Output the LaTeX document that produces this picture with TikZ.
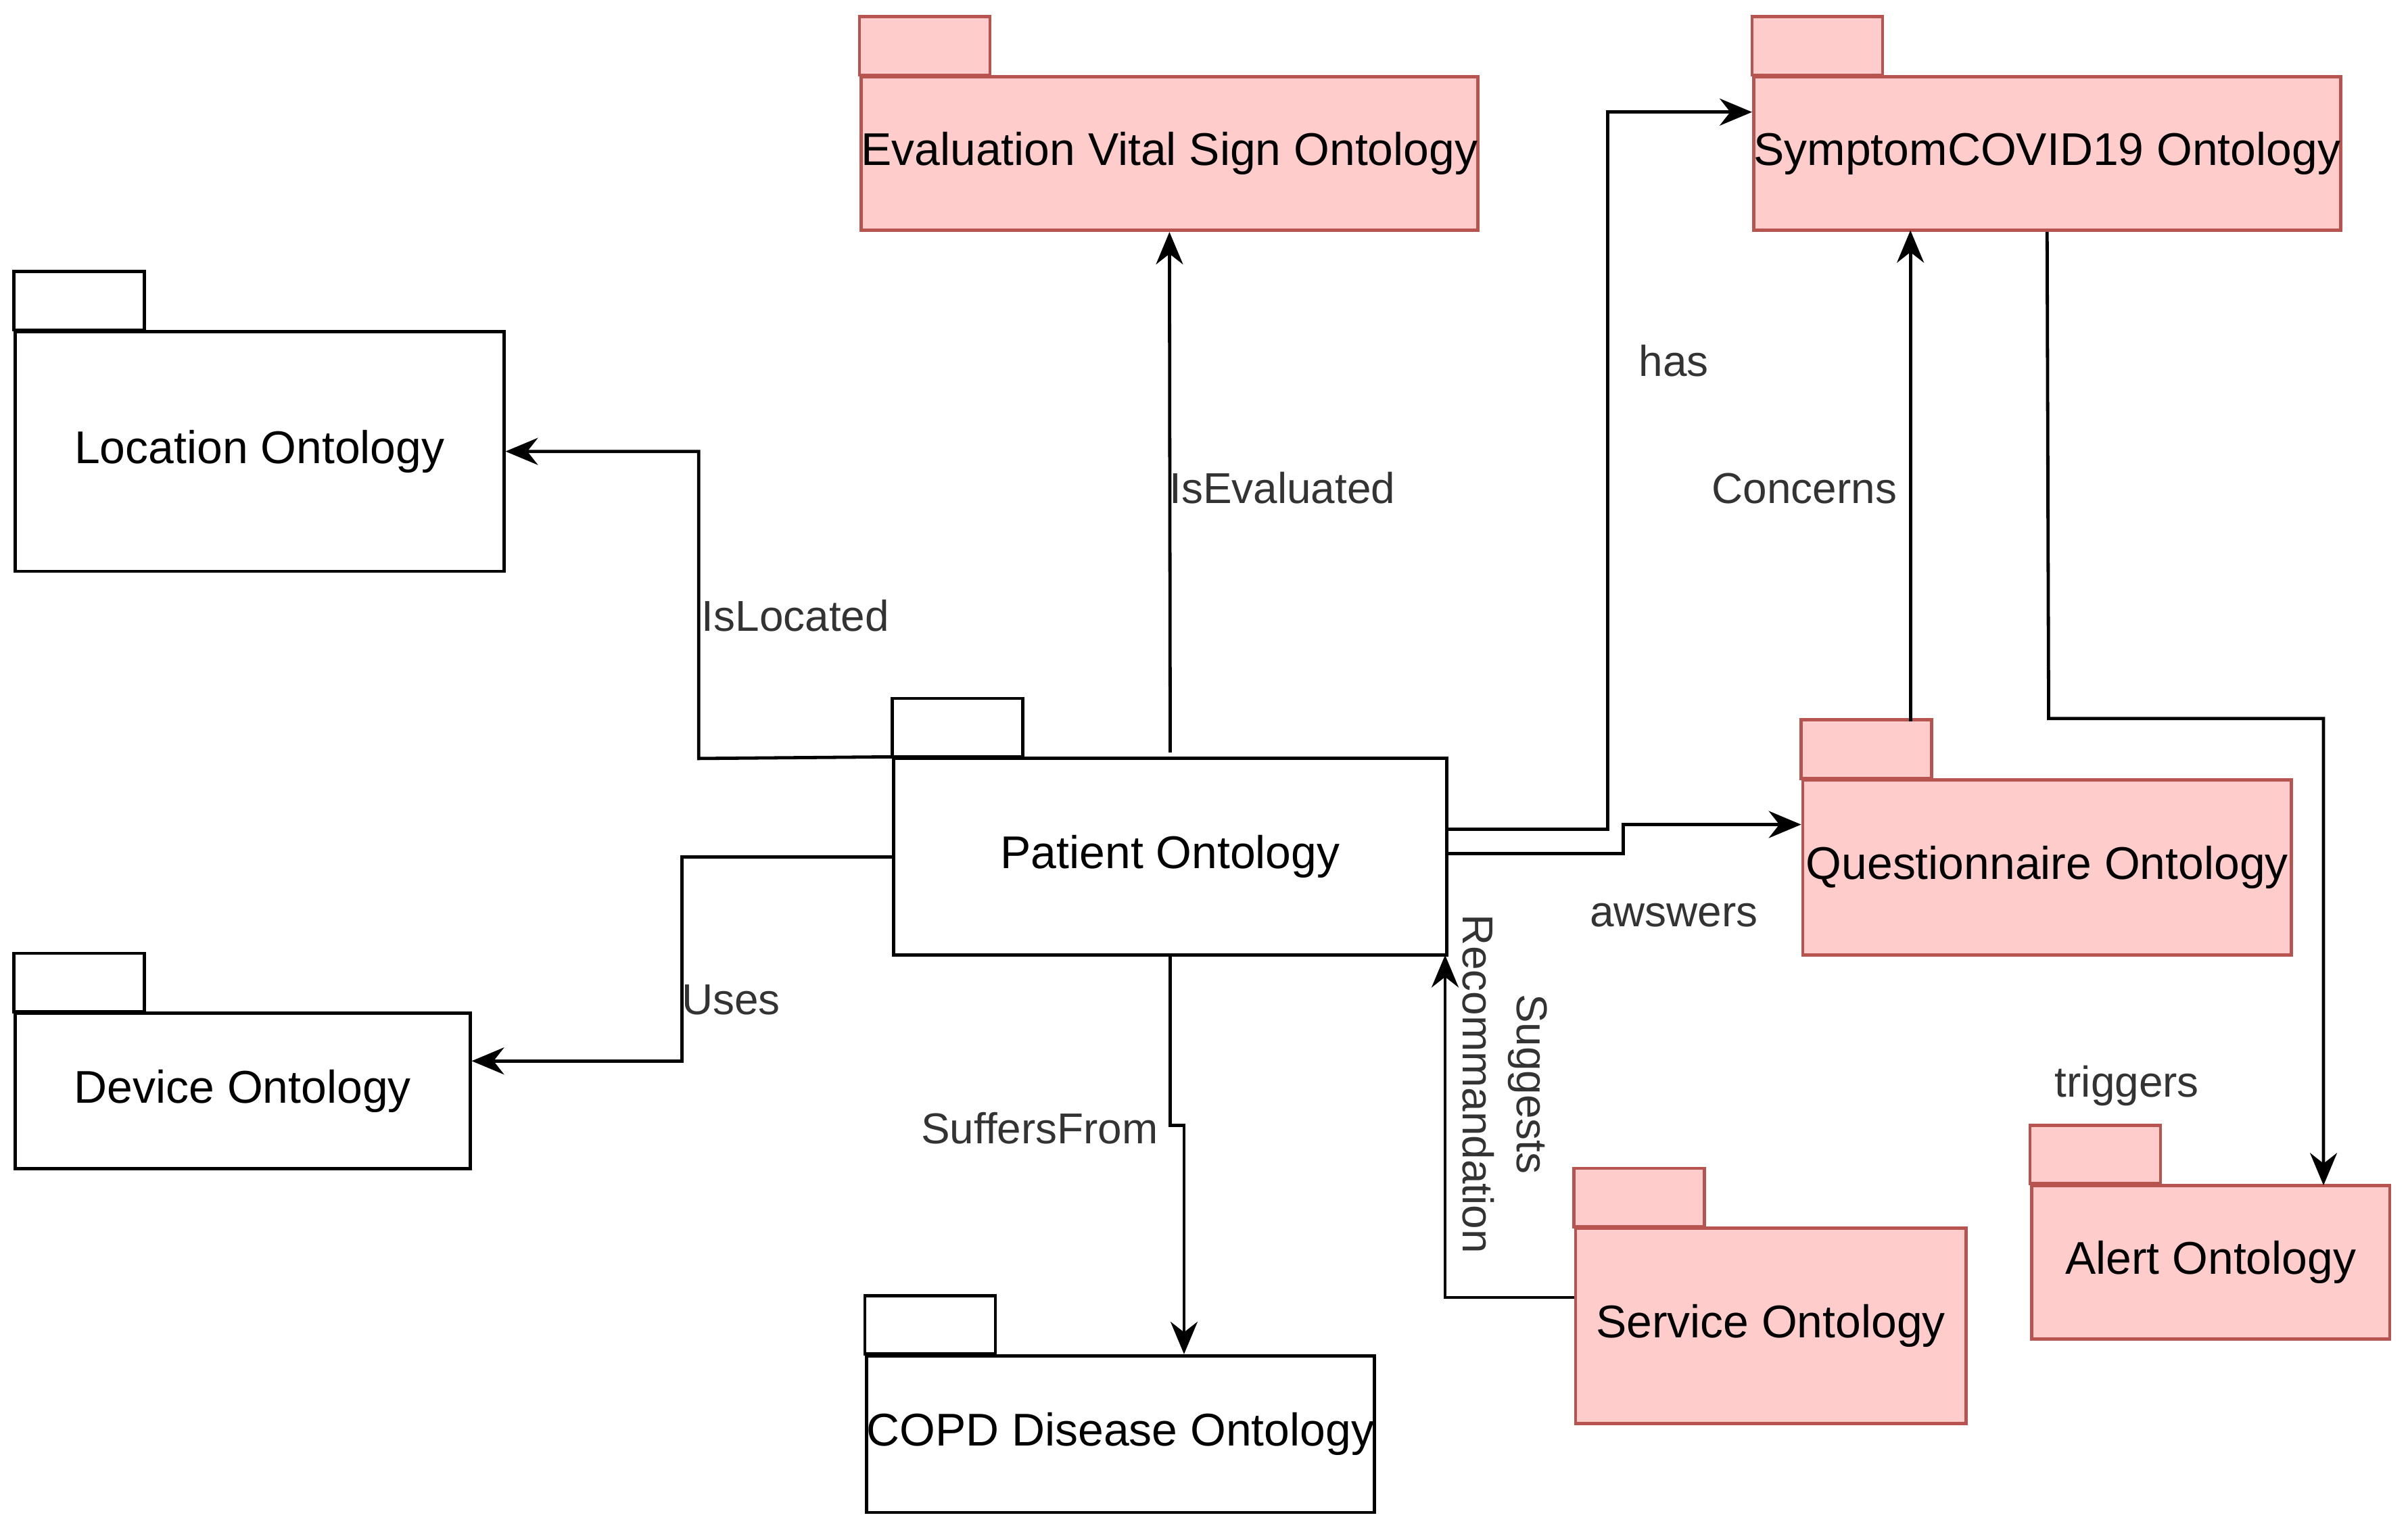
\documentclass[tikz,border=0pt]{standalone}
\usepackage{fontspec}
\setmainfont{Liberation Sans}
\usepackage{tikz}
\usepackage{xcolor}
\usetikzlibrary{positioning,arrows.meta}
\definecolor{pkgpink}{HTML}{FFCCCC}
\definecolor{pkgred}{HTML}{B85450}

\begin{document}
\begin{tikzpicture}[x=0.01cm, y=-0.01cm, semithick, font=\fontsize{8.5}{10}\selectfont,
    pkg/.style={draw=black, fill=white, inner sep=0pt},
    redpkg/.style={draw=pkgred, fill=pkgpink, inner sep=0pt},
    lbl/.style={font=\fontsize{8}{10}\selectfont, text=black!80},
    link/.style={-{Stealth[length=6pt,width=5pt]}}]
    \useasboundingbox (0,0) rectangle (1568,995);

    % package bodies
    \node[redpkg, minimum width=3.81cm, minimum height=1cm] (eval) at (761.5,100) {Evaluation Vital Sign Ontology};
    \node[redpkg, minimum width=3.6cm, minimum height=1cm] (symp) at (1333,100) {SymptomCOVID19 Ontology};
    \node[pkg, minimum width=3.18cm, minimum height=1.56cm] (loc) at (169,294) {Location Ontology};
    \node[pkg, minimum width=3.6cm, minimum height=1.28cm] (pat) at (762,558) {Patient Ontology};
    \node[redpkg, minimum width=3.18cm, minimum height=1.14cm] (quest) at (1333,565) {Questionnaire Ontology};
    \node[pkg, minimum width=2.96cm, minimum height=1.01cm] (dev) at (158,710.5) {Device Ontology};
    \node[redpkg, minimum width=2.33cm, minimum height=1cm] (alert) at (1439.5,822) {Alert Ontology};
    \node[redpkg, minimum width=2.54cm, minimum height=1.27cm] (serv) at (1153,863.5) {Service Ontology};
    \node[pkg, minimum width=3.17cm, minimum height=1.02cm] (copd) at (729.5,934) {COPD Disease Ontology};

    % tabs
    \foreach \n in {loc, pat, dev, copd}
    \draw[pkg] (\n.north west) rectangle ++(85,-38);
    \foreach \n in {eval, symp, quest, alert, serv}
    \draw[redpkg] (\n.north west) rectangle ++(85,-38);

    % relations
    \draw[link] (pat.north west) -- (455,494) |- (loc.east);
    \draw[link] (762,490) -- (eval.south);
    \draw[link] (pat.east |- 0,540) -| (1047,73) -- (symp.west |- 0,73);
    \draw[link] (1244,470) -- (1244,150);
    \draw[link] (pat.east |- 0,556) -| (1057,537) -- (quest.west |- 0,537);
    \draw[link] (pat.west) -| (444,691) -- (dev.east |- 0,691);
    \draw[link] (pat.south) -- (762,733) -| (copd.north -| 771,0);
    \draw[link] (serv.west |- 0,845) -| (941,622);
    \draw[link] (symp.south) -- (1334,468) -| (1513,772);

    % labels
    \node[lbl] (lhas) at (1090,235) {has};
    \node[lbl] (lconc) at (1175,318) {Concerns};
    \node[lbl] (leval) at (835,318) {IsEvaluated};
    \node[lbl] (lloc) at (518,401) {IsLocated};
    \node[lbl] (lans) at (1090,596) {awswers};
    \node[lbl] (luse) at (476,651) {Uses};
    \node[lbl] (lsuf) at (677,735) {SuffersFrom};
    \node[lbl] (ltrig) at (1385,707) {triggers};
    \node[lbl, rotate=-90, align=center] (lsug) at (980,706) {Suggests\\Recommandation};
\end{tikzpicture}
\end{document}
